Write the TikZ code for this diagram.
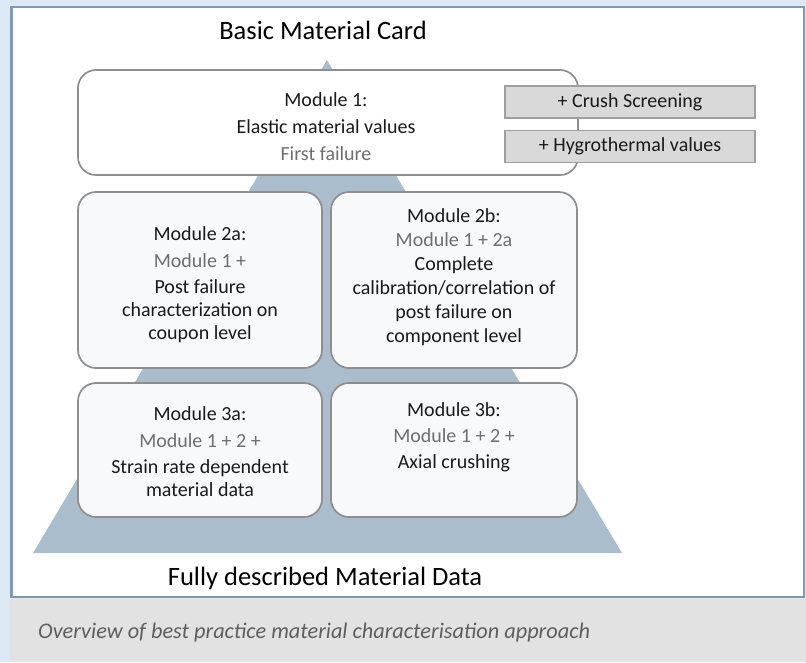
\documentclass[tikz,border=0pt]{standalone}
\usepackage{fontspec}
\setmainfont{Carlito}
\usetikzlibrary{positioning}
\definecolor{pageblue}{HTML}{DDE8F5}
\definecolor{frameblue}{HTML}{7F9AB4}
\definecolor{pyramid}{HTML}{A9BDCC}
\definecolor{boxline}{HTML}{8E8E8E}
\definecolor{boxfill}{HTML}{F8F9FB}
\definecolor{addfill}{HTML}{D9D9D9}
\definecolor{captionbg}{HTML}{E2E2E2}
\definecolor{softtext}{HTML}{6E6E6E}
\definecolor{maintext}{HTML}{1A1A1A}
\tikzset{
  module/.style={draw=boxline, line width=1.7pt, fill=boxfill, rounded corners=18pt, inner sep=0pt},
  addon/.style={draw=boxline!85, line width=1.2pt, fill=addfill, minimum width=250pt,
    minimum height=32pt, inner sep=0pt, font=\fontsize{20}{23}\selectfont, text=maintext},
  modtext/.style={align=center, font=\fontsize{20}{23}\selectfont, text=maintext, inner sep=0pt},
  heading/.style={font=\fontsize{26.5}{30}\selectfont, text=black, inner sep=0pt},
}
\newcommand{\soft}[1]{\textcolor{softtext}{#1}}
\begin{document}
\begin{tikzpicture}[x=1pt,y=-1pt]
    \useasboundingbox (0,0) rectangle (806,662);
    \fill[pageblue] (0,0) rectangle (806,662);
    \filldraw[fill=white, draw=frameblue, line width=2.5pt] (11.5,7) rectangle (804,597);
    \fill[captionbg] (10,598.5) rectangle (806,662);

    \fill[pyramid] (327,60) -- (622,553) -- (33,553) -- cycle;

    \node[module, fill=white, minimum width=500pt, minimum height=105pt] (m1) at (328,122.5) {};
    \node[module, minimum width=244pt, minimum height=176pt] (m2a) at (200,280) {};
    \node[module, minimum width=246pt, minimum height=176pt] (m2b) at (454,280) {};
    \node[module, minimum width=244pt, minimum height=134pt] (m3a) at (200,450) {};
    \node[module, minimum width=246pt, minimum height=134pt] (m3b) at (454,450) {};

    \node[addon] (crush) at (630,102) {+ Crush Screening};
    \node[addon] (hygro) at (630,146.5) {+ Hygrothermal values};

    \node[modtext] (t1) at (326,127) {Module 1:\\[4pt] Elastic material values\\[4pt] \soft{First failure}};
    \node[modtext] (t2a) at (200,284.5) {Module 2a:\\[4pt] \soft{Module 1 +}\\[3pt] Post failure\\ characterization on\\ coupon level};
    \node[modtext] (t2b) at (454,277) {Module 2b:\\[1pt] \soft{Module 1 + 2a}\\[1pt] Complete\\[1pt] calibration/correlation of\\[1pt] post failure on\\[1pt] component level};
    \node[modtext] (t3a) at (200,452) {Module 3a:\\[4pt] \soft{Module 1 + 2 +}\\[3pt] Strain rate dependent\\ material data};
    \node[modtext] (t3b) at (454,437) {Module 3b:\\[3pt] \soft{Module 1 + 2 +}\\[3pt] Axial crushing};

    \node[heading] (card) at (323,30) {Basic Material Card};
    \node[heading] (full) at (325,578) {Fully described Material Data};

    \node[anchor=west, inner sep=0pt, font=\fontsize{22.3}{25}\selectfont\itshape, text=softtext!85!black] (caption) at (38,633)
      {Overview of best practice material characterisation approach};
\end{tikzpicture}
\end{document}
